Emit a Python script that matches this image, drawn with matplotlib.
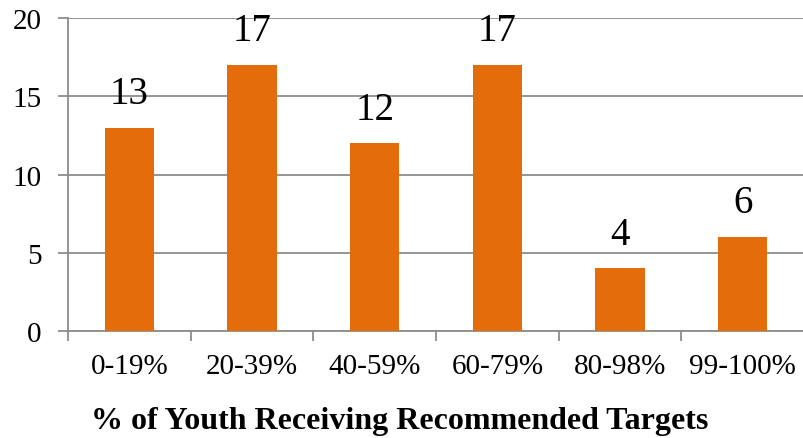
import numpy as np
import matplotlib
matplotlib.use("Agg")
import matplotlib.pyplot as plt

categories = ['0-19%', '20-39%', '40-59%', '60-79%', '80-98%', '99-100%']
counts = [13, 17, 12, 17, 4, 6]

plt.rcParams['font.family'] = ['Liberation Serif', 'DejaVu Serif']

grid_color = '#8c8c8c'
bar_color = '#E46C0A'

fig = plt.figure(figsize=(8.04, 4.39), dpi=100)
ax = fig.add_axes([0.0846, 0.2437, 0.9154, 0.713])

x = np.arange(len(categories))
bars = ax.bar(x, counts, width=0.4, color=bar_color, zorder=3)

for rect, val in zip(bars, counts):
    ax.text(rect.get_x() + rect.get_width() / 2, val + 1.0, str(val),
            ha='center', va='bottom', fontsize=28, color='black')

ax.set_xlim(-0.5, len(categories) - 0.5)
ax.set_ylim(0, 20)
ax.set_yticks([0, 5, 10, 15, 20])
ax.yaxis.grid(True, color=grid_color, linewidth=1.3, zorder=0)

# category labels centred, tick marks on the boundaries
ax.set_xticks(x)
ax.set_xticklabels(categories, fontsize=21)
ax.tick_params(axis='x', which='major', length=0, pad=16)
ax.set_xticks(np.arange(-0.5, len(categories)), minor=True)
ax.tick_params(axis='x', which='minor', length=7, width=1.3, color=grid_color)
ax.tick_params(axis='y', length=7, width=1.3, color=grid_color, labelsize=21, pad=12)

for side in ['top', 'right']:
    ax.spines[side].set_visible(False)
for side in ['left', 'bottom']:
    ax.spines[side].set_color(grid_color)
    ax.spines[side].set_linewidth(1.3)

ax.set_xlabel('% of Youth Receiving Recommended Targets', fontsize=23,
              fontweight='bold', va='center')
ax.xaxis.set_label_coords(0.45, -0.285, transform=ax.transAxes)

fig.savefig('out.png', dpi=100)
